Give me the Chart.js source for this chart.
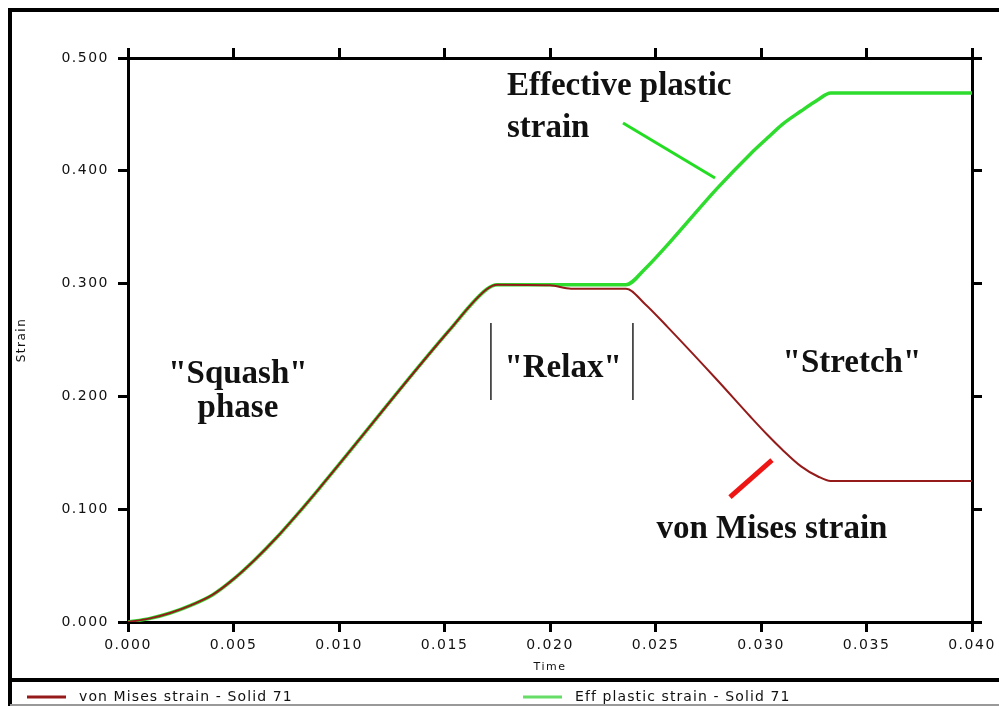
<!DOCTYPE html>
<html>
<head>
<meta charset="utf-8">
<script src="https://cdn.jsdelivr.net/npm/chart.js@4.4.1/dist/chart.umd.min.js"></script>
<style>
  html, body { margin: 0; padding: 0; background: #fff; }
  canvas { display: block; }
</style>
</head>
<body>
<canvas id="myChart" width="999" height="706"></canvas>
<script>
// time (s) and the two strain histories
const timeSteps  = [0, 0.001, 0.002, 0.003, 0.004, 0.005, 0.006, 0.007, 0.008, 0.009, 0.0152, 0.0170, 0.0175,
                    0.0200, 0.0210, 0.0236, 0.0245, 0.0256, 0.0279, 0.0295, 0.0303, 0.0310, 0.0319, 0.0327, 0.0333, 0.0400];
const vonMises   = [0, 0.003, 0.008, 0.015, 0.024, 0.038, 0.055, 0.074, 0.095, 0.117, 0.258, 0.295, 0.299,
                    0.2985, 0.2955, 0.2955, 0.282, 0.261, 0.215, 0.182, 0.166, 0.153, 0.138, 0.129, 0.125, 0.125];
const effPlastic = [0, 0.003, 0.008, 0.015, 0.024, 0.038, 0.055, 0.074, 0.095, 0.117, 0.258, 0.295, 0.299,
                    0.299, 0.299, 0.299, 0.313, 0.335, 0.384, 0.415, 0.429, 0.441, 0.453, 0.463, 0.469, 0.469];

const seriesNames = ['von Mises strain - Solid 71', 'Eff plastic strain - Solid 71'];
const xTicks = [0, 0.040, 0.005];   // min, max, step
const yTicks = [0, 0.500, 0.100];

// notes on the plot, placed in data units (time, strain)
const notes = [
  { text: 'Effective plastic', t: 0.01796, s: 0.467, align: 'left' },
  { text: 'strain',            t: 0.01796, s: 0.430, align: 'left' },
  { text: '"Squash"',          t: 0.00521, s: 0.212, align: 'center' },
  { text: 'phase',             t: 0.00521, s: 0.182, align: 'center' },
  { text: '"Relax"',           t: 0.02062, s: 0.217, align: 'center' },
  { text: '"Stretch"',         t: 0.03431, s: 0.222, align: 'center' },
  { text: 'von Mises strain',  t: 0.03052, s: 0.0745, align: 'center' }
];
const pointers = [
  { from: [0.02346, 0.4424], to: [0.02782, 0.3936], color: '#22dd22', width: 3 },
  { from: [0.02853, 0.1108], to: [0.03052, 0.1436], color: '#ee1515', width: 5 },
  { from: [0.0172, 0.2651],  to: [0.0172, 0.1968],  color: '#222', width: 1.5 },
  { from: [0.02393, 0.2651], to: [0.02393, 0.1968], color: '#222', width: 1.5 }
];

const redLine = '#951b1b';
const greenLine = '#2edc2e';

const framePlugin = {
  id: 'frame',
  beforeDraw(chart) {
    const c = chart.ctx;
    c.save();
    c.fillStyle = '#fff';
    c.fillRect(0, 0, chart.width, chart.height);
    c.restore();
    c.letterSpacing = '1.5px';
  },
  beforeDatasetsDraw(chart) {
    chart.ctx.letterSpacing = '0px';
  },
  afterDraw(chart) {
    const c = chart.ctx;
    const xs = chart.scales.x, ys = chart.scales.y;
    c.save();
    c.letterSpacing = '0px';
    // outer frame
    c.strokeStyle = '#000';
    c.lineWidth = 4;
    c.beginPath();
    c.moveTo(10, 706); c.lineTo(10, 10); c.lineTo(999, 10);
    c.moveTo(10, 680); c.lineTo(999, 680);
    c.stroke();
    c.strokeStyle = '#999';
    c.lineWidth = 2;
    c.beginPath(); c.moveTo(10, 705); c.lineTo(999, 705); c.stroke();

    // legend
    const legX = [27, 523];
    chart.data.datasets.forEach((ds, i) => {
      c.strokeStyle = i === 0 ? ds.borderColor : '#66dd66';
      c.lineWidth = 3;
      c.beginPath(); c.moveTo(legX[i], 697); c.lineTo(legX[i] + 39, 697); c.stroke();
      c.fillStyle = '#111';
      c.font = '14px "DejaVu Sans"';
      c.letterSpacing = '1.1px';
      c.textBaseline = 'middle';
      c.textAlign = 'left';
      c.fillText(ds.label, legX[i] + 52, 697);
    });
    c.letterSpacing = '0px';

    // pointers
    pointers.forEach(p => {
      c.strokeStyle = p.color;
      c.lineWidth = p.width;
      c.beginPath();
      c.moveTo(xs.getPixelForValue(p.from[0]), ys.getPixelForValue(p.from[1]));
      c.lineTo(xs.getPixelForValue(p.to[0]), ys.getPixelForValue(p.to[1]));
      c.stroke();
    });

    // notes
    c.fillStyle = '#111';
    c.font = 'bold 33px "Liberation Serif"';
    c.textBaseline = 'alphabetic';
    notes.forEach(n => {
      c.textAlign = n.align;
      c.fillText(n.text, xs.getPixelForValue(n.t), ys.getPixelForValue(n.s));
    });
    c.restore();
  }
};

const tickFont = { family: 'DejaVu Sans', size: 14 };
const axisGrid = { drawOnChartArea: false, color: '#000', lineWidth: 3, tickLength: 10 };
const axisBorder = { color: '#000', width: 3 };

new Chart(document.getElementById('myChart'), {
  type: 'line',
  data: {
    datasets: [
      {
        label: seriesNames[0],
        data: timeSteps.map((t, i) => ({ x: t, y: vonMises[i] })),
        borderColor: redLine,
        borderWidth: 2,
        order: 0
      },
      {
        label: seriesNames[1],
        data: timeSteps.map((t, i) => ({ x: t, y: effPlastic[i] })),
        borderColor: greenLine,
        borderWidth: 3.5,
        order: 1
      }
    ]
  },
  options: {
    responsive: false,
    animation: false,
    events: [],
    layout: { padding: 0 },
    elements: {
      point: { radius: 0 },
      line: { cubicInterpolationMode: 'monotone' }
    },
    plugins: {
      legend: { display: false },
      tooltip: { enabled: false }
    },
    scales: {
      x: {
        type: 'linear', position: 'bottom',
        min: xTicks[0], max: xTicks[1],
        ticks: { stepSize: xTicks[2], autoSkip: false, maxRotation: 0, padding: 5, color: '#111',
                 font: tickFont, callback: v => v.toFixed(3) },
        grid: axisGrid, border: axisBorder,
        title: { display: true, text: 'Time', color: '#111', font: { family: 'DejaVu Sans', size: 11 },
                 padding: { top: 0, bottom: 32 } },
        afterFit: s => { s.height = 84; }
      },
      xTop: {
        type: 'linear', position: 'top',
        min: xTicks[0], max: xTicks[1],
        ticks: { stepSize: xTicks[2], display: false },
        grid: axisGrid, border: axisBorder,
        afterFit: s => { s.height = 58; }
      },
      y: {
        type: 'linear', position: 'left',
        min: yTicks[0], max: yTicks[1],
        ticks: { stepSize: yTicks[2], autoSkip: false, padding: 9, color: '#111',
                 font: tickFont, callback: v => v.toFixed(3) },
        grid: axisGrid, border: axisBorder,
        title: { display: true, text: 'Strain', color: '#111', font: { family: 'DejaVu Sans', size: 12 },
                 padding: { top: 15, bottom: 0 } },
        afterFit: s => { s.width = 128; }
      },
      yRight: {
        type: 'linear', position: 'right',
        min: yTicks[0], max: yTicks[1],
        ticks: { stepSize: yTicks[2], display: false },
        grid: axisGrid, border: axisBorder,
        afterFit: s => { s.width = 27; }
      }
    }
  },
  plugins: [framePlugin]
});
</script>
</body>
</html>
